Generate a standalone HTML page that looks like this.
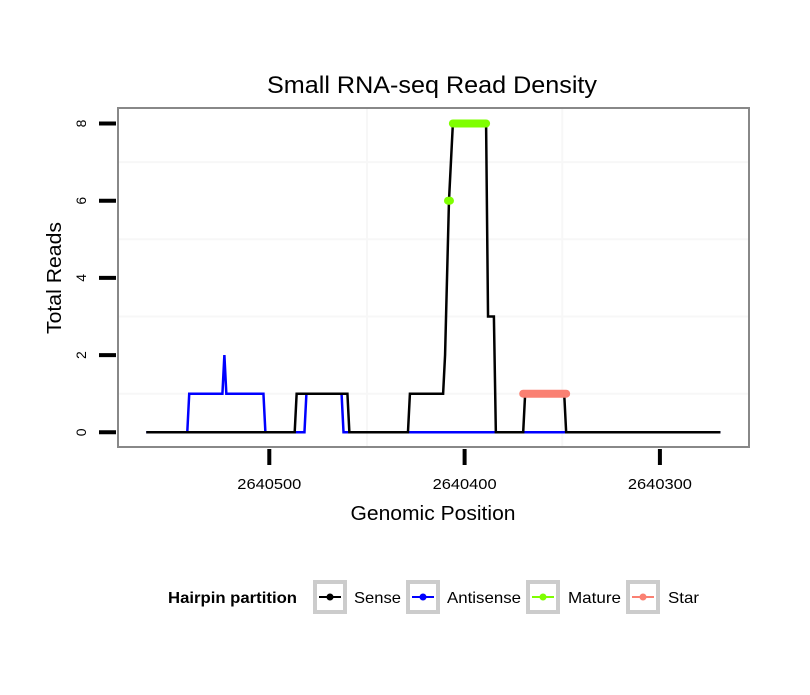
<!DOCTYPE html>
<html><head><meta charset="utf-8"><style>
body{margin:0;background:#fff;}
svg text{font-family:"Liberation Sans",sans-serif;}
</style></head><body>
<svg id="chart" width="810" height="690" xmlns="http://www.w3.org/2000/svg">
<rect width="810" height="690" fill="#fff"/>
<text x="432" y="93" font-size="24" text-anchor="middle" textLength="330" lengthAdjust="spacingAndGlyphs">Small RNA-seq Read Density</text>
<g id="grid"></g>
<g id="series"></g>
<rect x="118" y="108" width="631" height="339" fill="none" stroke="#888" stroke-width="2"/>
<g id="axes"></g>
<text x="433" y="520" font-size="20" text-anchor="middle" textLength="165" lengthAdjust="spacingAndGlyphs">Genomic Position</text>
<text transform="translate(61,278) rotate(-90)" font-size="20" text-anchor="middle" textLength="112" lengthAdjust="spacingAndGlyphs">Total Reads</text>
<g>
<text x="168" y="603" font-size="16" font-weight="bold" textLength="129" lengthAdjust="spacingAndGlyphs">Hairpin partition</text>
<g id="legend-items"></g>
</g>
</svg>
<script>
const xTicks=[2640500,2640400,2640300];
const yTicks=[0,2,4,6,8];
const senseData=[[2640563,0],[2640487,0],[2640486,1],[2640460,1],[2640459,0],[2640429,0],[2640428,1],[2640411,1],[2640410,2],[2640408,6],[2640406,8],[2640389,8],[2640388,3],[2640385,3],[2640384,0],[2640370,0],[2640369,1],[2640349,1],[2640348,0],[2640269,0]];
const antisenseData=[[2640563,0],[2640542,0],[2640541,1],[2640524,1],[2640523,2],[2640522,1],[2640503,1],[2640502,0],[2640482,0],[2640481,1],[2640463,1],[2640462,0],[2640269,0]];
const matureData=[[[2640408.5,6],[2640407.5,6]],[[2640406,8],[2640389,8]]];
const starData=[[[2640370,1],[2640348,1]]];
const legendLabels=["Sense","Antisense","Mature","Star"];
const legendColors=["#000","#0000ff","#7fff00","#fa8072"];

const NS="http://www.w3.org/2000/svg";
function X(p){return 269.3+(2640500-p)*1.953;}
function Y(v){return 432.3-v*38.6;}
function mk(tag,attrs,parent){const e=document.createElementNS(NS,tag);for(const k in attrs)e.setAttribute(k,attrs[k]);parent.appendChild(e);return e;}
const grid=document.getElementById('grid'),axes=document.getElementById('axes'),ser=document.getElementById('series');
mk('rect',{x:118,y:108,width:631,height:339,fill:'#fff'},grid);
for(let v=1;v<8;v+=2){const l=mk('line',{x1:118,x2:749,y1:Y(v),y2:Y(v),stroke:'#f7f7f7','stroke-width':2},grid);

}
[2640450,2640350].forEach(p=>{const l=mk('line',{x1:X(p),x2:X(p),y1:108,y2:447,stroke:'#f7f7f7','stroke-width':2},grid);

});
yTicks.forEach(v=>{
const t=mk('line',{x1:99,x2:116,y1:Y(v),y2:Y(v),stroke:'#000','stroke-width':4},axes);


const tx=mk('text',{transform:`translate(86,${Y(v)}) rotate(-90)`,'font-size':14,'text-anchor':'middle'},axes);
tx.textContent=v;

});
xTicks.forEach(p=>{
const t=mk('line',{x1:X(p),x2:X(p),y1:449,y2:465,stroke:'#000','stroke-width':4},axes);


const tx=mk('text',{x:X(p),y:489,'font-size':15,'text-anchor':'middle',textLength:64,lengthAdjust:'spacingAndGlyphs'},axes);
tx.textContent=p;

});
function line(data,color,name){const p=mk('polyline',{points:data.map(d=>X(d[0])+','+Y(d[1])).join(' '),fill:'none',stroke:color,'stroke-width':2.5},ser);

}
line(antisenseData,'#0000ff','antisense-line');
line(senseData,'#000','sense-line');
function thick(segs,color,name){segs.forEach(s=>{const a=s[0],b=s[s.length-1];
const l=mk('line',{x1:X(a[0]),y1:Y(a[1]),x2:X(b[0]),y2:Y(b[1]),stroke:color,'stroke-width':8,'stroke-linecap':'round'},ser);

});}
thick(matureData,'#7fff00','mature-segment');
thick(starData,'#fa8072','star-segment');
const li=document.getElementById('legend-items');
const boxX=[315,408,528,628],lblX=[354,447,568,668],lblW=[47,74,53,31];
legendLabels.forEach((lab,i)=>{
const g=mk('g',{},li);


mk('rect',{x:boxX[i],y:582,width:30,height:30,fill:'#fff',stroke:'#ccc','stroke-width':4},g);
mk('line',{x1:boxX[i]+4,x2:boxX[i]+26,y1:597,y2:597,stroke:legendColors[i],'stroke-width':2},g);
mk('circle',{cx:boxX[i]+15,cy:597,r:3.5,fill:legendColors[i]},g);
const t=mk('text',{x:lblX[i],y:603,'font-size':16,textLength:lblW[i],lengthAdjust:'spacingAndGlyphs'},g);t.textContent=lab;});
</script>
</body></html>
